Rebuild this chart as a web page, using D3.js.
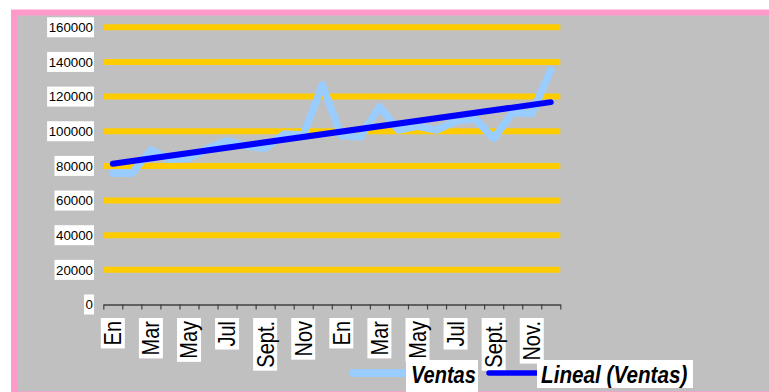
<!DOCTYPE html>
<html>
<head>
<meta charset="utf-8">
<script src="https://cdn.jsdelivr.net/npm/d3@7"></script>
<style>
  html, body { margin: 0; padding: 0; background: #ffffff; }
  svg { display: block; }
  text { font-family: "Liberation Sans", Arial, sans-serif; }
</style>
</head>
<body>
<svg id="chart" width="769" height="392"></svg>
<script>
// Monthly sales over two years
const months = ["En","Feb","Mar","Abr","May","Jun","Jul","Ag","Sept.","Oct","Nov","Dic",
                "En","Feb","Mar","Abr","May","Jun","Jul","Ag","Sept.","Oct","Nov.","Dic"];
const ventas = [75700, 75700, 89200, 83800, 84400, 90200, 94400, 91500, 90200, 98400, 97800, 126700,
                97500, 96700, 114200, 100700, 103000, 100700, 105900, 107400, 95900, 110700, 110300, 135400];
const yTicks = [0, 20000, 40000, 60000, 80000, 100000, 120000, 140000, 160000];
const legendLabels = ["Ventas", "Lineal (Ventas)"];

const svg = d3.select("#chart");

// Frame
svg.append("rect")
  .attr("x", 14).attr("y", 12.5)
  .attr("width", 800).attr("height", 381.8)
  .attr("fill", "#c0c0c0")
  .attr("stroke", "#ff99cc").attr("stroke-width", 6);

const plotLeft = 103.3, plotRight = 560.3, plotTop = 27.3, plotBottom = 304.5;

const x = d3.scaleBand().domain(d3.range(months.length)).range([plotLeft, plotRight]).padding(0);
const xc = i => x(i) + x.bandwidth() / 2;
const y = d3.scaleLinear().domain([0, 160000]).range([plotBottom, plotTop]);

// Gridlines
svg.append("g").selectAll("line")
  .data(yTicks.filter(d => d > 0))
  .join("line")
  .attr("x1", plotLeft).attr("x2", plotRight)
  .attr("y1", d => y(d)).attr("y2", d => y(d))
  .attr("stroke", "#ffcc00").attr("stroke-width", 6);

// Sales line
svg.append("path")
  .datum(ventas)
  .attr("fill", "none")
  .attr("stroke", "#99ccff")
  .attr("stroke-width", 7.5)
  .attr("stroke-linejoin", "round")
  .attr("stroke-linecap", "round")
  .attr("d", d3.line().x((d, i) => xc(i)).y(d => y(d)));

// Least-squares linear trend of the sales
const n = ventas.length;
const meanX = (n - 1) / 2;
const meanY = d3.mean(ventas);
let sxy = 0, sxx = 0;
ventas.forEach((v, i) => { sxy += (i - meanX) * (v - meanY); sxx += (i - meanX) ** 2; });
const slope = sxy / sxx;
const intercept = meanY - slope * meanX;
const trend = [0, n - 1].map(i => ({ i, v: intercept + slope * i }));

svg.append("path")
  .datum(trend)
  .attr("fill", "none")
  .attr("stroke", "#0000ff")
  .attr("stroke-width", 6)
  .attr("stroke-linecap", "round")
  .attr("d", d3.line().x(d => xc(d.i)).y(d => y(d.v)));

// X axis with ticks at category boundaries
const xEdges = d3.scaleLinear().domain([0, n]).range([plotLeft, plotRight]);
const xAxis = svg.append("g")
  .attr("transform", `translate(0,${plotBottom})`)
  .call(d3.axisBottom(xEdges).tickValues(d3.range(n + 1)).tickFormat("").tickSizeInner(5).tickSizeOuter(0));
xAxis.select(".domain").attr("stroke", "#404040").attr("stroke-width", 1.5);
xAxis.selectAll(".tick line").attr("stroke", "#404040").attr("stroke-width", 1.2);

// Y tick labels on white boxes
const yLab = svg.append("g").selectAll("g")
  .data(yTicks)
  .join("g")
  .attr("transform", d => `translate(93,${y(d)})`);
yLab.append("text")
  .attr("text-anchor", "end")
  .attr("dy", "0.36em")
  .attr("font-size", 13.3)
  .attr("fill", "#000")
  .text(d => d3.format("d")(d));
yLab.each(function() {
  const g = d3.select(this);
  const bb = g.select("text").node().getBBox();
  g.insert("rect", "text")
    .attr("x", bb.x - 1.5).attr("y", -10)
    .attr("width", bb.width + 2.5).attr("height", 20)
    .attr("fill", "#ffffff");
});

// Month labels, rotated, on white boxes
const sy = 1.17, fs = 20;
const xLab = svg.append("g").selectAll("g")
  .data(months.map((m, i) => ({ m, i })).filter(d => d.i % 2 === 0))
  .join("g")
  .attr("transform", d => `translate(${xc(d.i)},318) rotate(-90) scale(1,${sy})`);
xLab.append("text")
  .attr("x", -3)
  .attr("y", 0.716 * fs / 2)
  .attr("text-anchor", "end")
  .attr("font-size", fs)
  .attr("fill", "#000")
  .text(d => d.m);
xLab.each(function() {
  const g = d3.select(this);
  const bb = g.select("text").node().getBBox();
  const half = 12 / sy;
  g.insert("rect", "text")
    .attr("x", -(bb.width + 6)).attr("y", -half)
    .attr("width", bb.width + 6).attr("height", 2 * half)
    .attr("fill", "#ffffff");
});

// Legend
const legend = svg.append("g");
const legendItems = [
  { label: legendLabels[0], color: "#99ccff", width: 8, x1: 353, x2: 405, boxX: 406, boxW: 72, boxH: 34, tx: 411, fs: 20 },
  { label: legendLabels[1], color: "#0000ff", width: 5.5, x1: 489, x2: 536, boxX: 537, boxW: 156, boxH: 28, tx: 541, fs: 20.7 }
];
legendItems.forEach(it => {
  legend.append("line")
    .attr("x1", it.x1).attr("x2", it.x2)
    .attr("y1", 373).attr("y2", 373)
    .attr("stroke", it.color).attr("stroke-width", it.width)
    .attr("stroke-linecap", "round");
  legend.append("rect")
    .attr("x", it.boxX).attr("y", 360)
    .attr("width", it.boxW).attr("height", it.boxH)
    .attr("fill", "#ffffff");
  legend.append("text")
    .attr("transform", `translate(${it.tx},383.3) scale(1,${sy})`)
    .attr("font-size", it.fs)
    .attr("font-weight", "bold")
    .attr("font-style", "italic")
    .attr("fill", "#000")
    .text(it.label);
});
</script>
</body>
</html>
